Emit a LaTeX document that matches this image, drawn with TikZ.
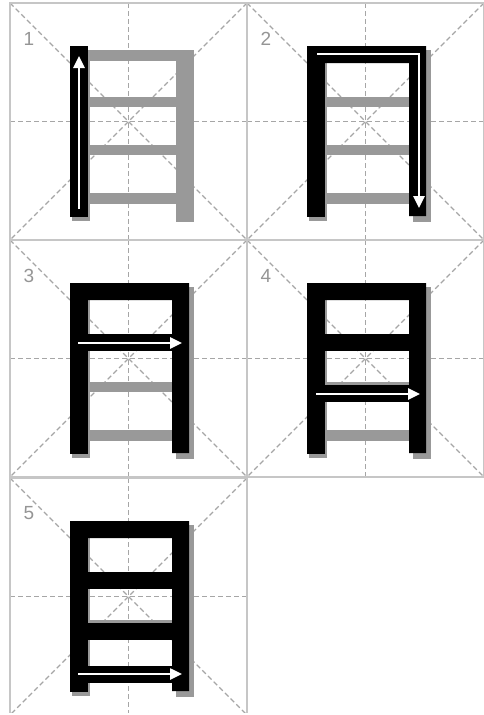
\documentclass[tikz,border=0pt]{standalone}
\usepackage{fontspec}
\setmainfont{Liberation Sans}
\usetikzlibrary{arrows.meta}
\definecolor{borderc}{HTML}{C6C6C6}
\definecolor{dashc}{HTML}{A6A6A6}
\definecolor{shadowc}{HTML}{999999}
\definecolor{numc}{HTML}{959595}
\tikzset{
  cellborder/.style={draw=borderc, line width=1.4pt},
  dashline/.style={draw=dashc, line width=1.1pt, dash pattern=on 5pt off 3pt},
  shadowfill/.style={fill=shadowc},
  inkfill/.style={fill=black},
  whitearrow/.style={draw=white, line width=2.5pt, -{Triangle[length=12pt,width=11pt]}},
  numlabel/.style={text=numc, font=\fontsize{19}{19}\selectfont, inner sep=0pt}
}
\newcommand{\gridcell}[2]{%
  \draw[dashline] (0,118.5) -- (237,118.5);
  \draw[dashline] (118.5,0) -- (118.5,237);
  \draw[dashline] (0,0) -- (237,237);
  \draw[dashline] (237,0) -- (0,237);
  \draw[cellborder] (0,0) rectangle (237,237);
  \node[numlabel] (#2) at (19,35.5) {#1};
}
\newcommand{\shadowchar}{%
  \fill[shadowfill] (62,47) rectangle (80,218);
  \fill[shadowfill] (166,47) rectangle (184,219);
  \fill[shadowfill] (78,47) rectangle (168,58);
  \fill[shadowfill] (78,94) rectangle (168,104);
  \fill[shadowfill] (78,142) rectangle (168,152);
  \fill[shadowfill] (78,190) rectangle (168,201);
}
\newcommand{\strokeA}{\fill[inkfill] (60,43) rectangle (78,214);}
\newcommand{\strokeB}{\fill[inkfill] (60,43) rectangle (179,60) (162,43) rectangle (179,213);}
\newcommand{\strokeC}{\fill[inkfill] (76,94) rectangle (164,111);}
\newcommand{\strokeD}{\fill[inkfill] (76,145) rectangle (164,162);}
\newcommand{\strokeE}{\fill[inkfill] (76,188) rectangle (164,205);}
\begin{document}
\begin{tikzpicture}[x=1pt,y=-1pt]
\useasboundingbox (0,0) rectangle (484,715);
\fill[white] (0,0) rectangle (484,715);
% panel 1
\begin{scope}[shift={(10,3)}]
  \gridcell{1}{n1}
  \shadowchar
  \strokeA
  \coordinate (a1s) at (69,206);
  \coordinate (a1e) at (69,53);
  \draw[whitearrow] (a1s) -- (a1e);
\end{scope}
% panel 2
\begin{scope}[shift={(247,3)}]
  \gridcell{2}{n2}
  \shadowchar
  \strokeA\strokeB
  \coordinate (a2s) at (70,51);
  \coordinate (a2m) at (172,51);
  \coordinate (a2e) at (172,205);
  \draw[whitearrow] (a2s) -- (a2m) -- (a2e);
\end{scope}
% panel 3
\begin{scope}[shift={(10,240)}]
  \gridcell{3}{n3}
  \shadowchar
  \strokeA\strokeB\strokeC
  \coordinate (a3s) at (68,103);
  \coordinate (a3e) at (172,103);
  \draw[whitearrow] (a3s) -- (a3e);
\end{scope}
% panel 4
\begin{scope}[shift={(247,240)}]
  \gridcell{4}{n4}
  \shadowchar
  \strokeA\strokeB\strokeC\strokeD
  \coordinate (a4s) at (69,154);
  \coordinate (a4e) at (173,154);
  \draw[whitearrow] (a4s) -- (a4e);
\end{scope}
% panel 5 (bottom edge cut off by the page)
\begin{scope}[shift={(10,478)}]
  \clip (-5,-5) rectangle (242,234.5);
  \gridcell{5}{n5}
  \shadowchar
  \strokeA\strokeB\strokeC\strokeD\strokeE
  \coordinate (a5s) at (68,196);
  \coordinate (a5e) at (172,196);
  \draw[whitearrow] (a5s) -- (a5e);
\end{scope}
\end{tikzpicture}
\end{document}
